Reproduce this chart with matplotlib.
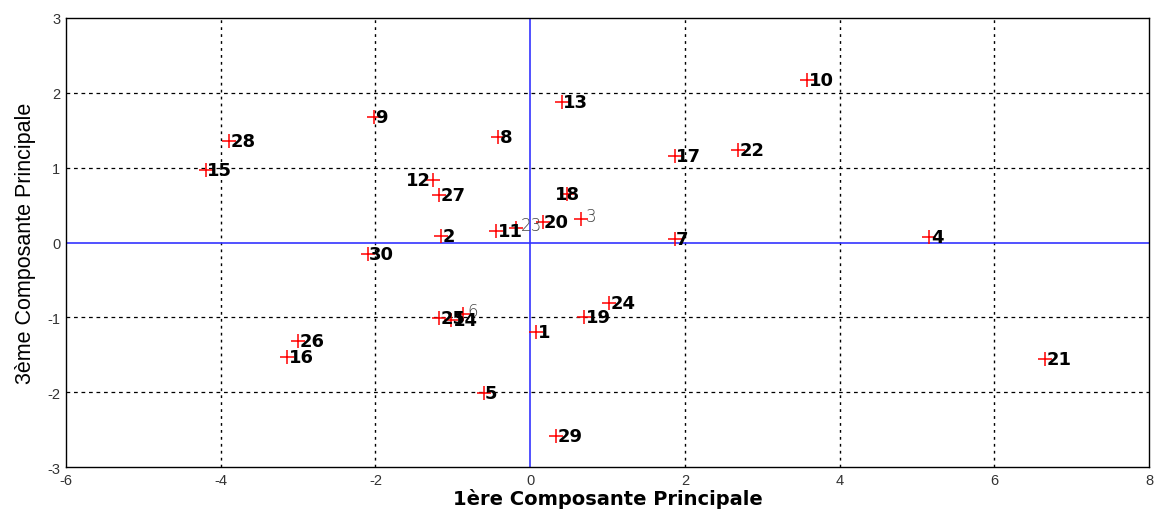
import matplotlib
matplotlib.use("Agg")
import matplotlib.pyplot as plt

plt.rcParams['axes.unicode_minus'] = False

# Individus projetes sur le plan (CP1, CP3)
labels = ['1', '2', '3', '4', '5', '6', '7', '8', '9', '10',
          '11', '12', '13', '14', '15', '16', '17', '18', '19', '20',
          '21', '22', '23', '24', '25', '26', '27', '28', '29', '30']
cp1 = [0.08, -1.15, 0.66, 5.16, -0.60, -0.87, 1.87, -0.41, -2.02, 3.58,
       -0.44, -1.25, 0.41, -1.02, -4.19, -3.14, 1.87, 0.48, 0.70, 0.16,
       6.65, 2.69, -0.18, 1.02, -1.18, -3.00, -1.18, -3.89, 0.34, -2.10]
cp3 = [-1.19, 0.09, 0.32, 0.08, -2.01, -0.95, 0.05, 1.41, 1.67, 2.17,
       0.16, 0.83, 1.88, -1.03, 0.97, -1.53, 1.15, 0.65, -0.99, 0.28,
       -1.56, 1.24, 0.20, -0.81, -1.01, -1.32, 0.64, 1.36, -2.59, -0.15]

x_ticks = [-6, -4, -2, 0, 2, 4, 6, 8]
y_ticks = [-3, -2, -1, 0, 1, 2, 3]

# a few labels are placed differently to limit overlaps
special_align = {'12': 'right', '18': 'center'}
thin_labels = {'3', '6', '23'}

fig = plt.figure(figsize=(11.55, 5.10), dpi=100)
ax = fig.add_axes([0.057, 0.082, 0.938, 0.881])

ax.set_xlim(-6, 8)
ax.set_ylim(-3, 3)
ax.set_xticks(x_ticks)
ax.set_yticks(y_ticks)

# dotted grid, drawn by hand to skip the zero lines
for xv in x_ticks[1:-1]:
    if xv != 0:
        ax.axvline(xv, color='black', lw=1.0, ls=(0, (2, 3)), zorder=1)
for yv in y_ticks[1:-1]:
    if yv != 0:
        ax.axhline(yv, color='black', lw=0.9, ls=(0, (3, 3)), zorder=1)

ax.axhline(0, color='#3333ff', lw=1.2, zorder=2)
ax.axvline(0, color='#3333ff', lw=1.2, zorder=2)

ax.plot(cp1, cp3, ls='none', marker='+', ms=10, mew=1.1, color='red', zorder=3)

for lab, x, y in zip(labels, cp1, cp3):
    ha = special_align.get(lab, 'left')
    dx = {'left': 1, 'right': -2, 'center': 0}[ha]
    if lab in thin_labels:
        ax.annotate(lab, (x, y), xytext=(dx + 2, 2), textcoords='offset points',
                    ha=ha, va='center', fontsize=12, color='#444444',
                    family='DejaVu Sans', fontweight='light', zorder=4)
    else:
        ax.annotate(lab, (x, y), xytext=(dx, 0), textcoords='offset points',
                    ha=ha, va='center', fontsize=13, fontweight='bold',
                    color='black', family='DejaVu Sans', zorder=4)

ax.tick_params(direction='in', length=0, labelsize=10.5, labelcolor='#333333', pad=4)
for tl in ax.get_xticklabels() + ax.get_yticklabels():
    tl.set_family('Liberation Sans')

for sp in ax.spines.values():
    sp.set_color('black')
    sp.set_linewidth(1.0)

ax.set_xlabel('1ère Composante Principale', fontsize=14, fontweight='bold',
              family='DejaVu Sans', labelpad=1)
ax.set_ylabel('3ème Composante Principale', fontsize=15.5,
              family=['Liberation Sans Narrow', 'Liberation Sans'], labelpad=8)

fig.savefig('out.png', dpi=100)
